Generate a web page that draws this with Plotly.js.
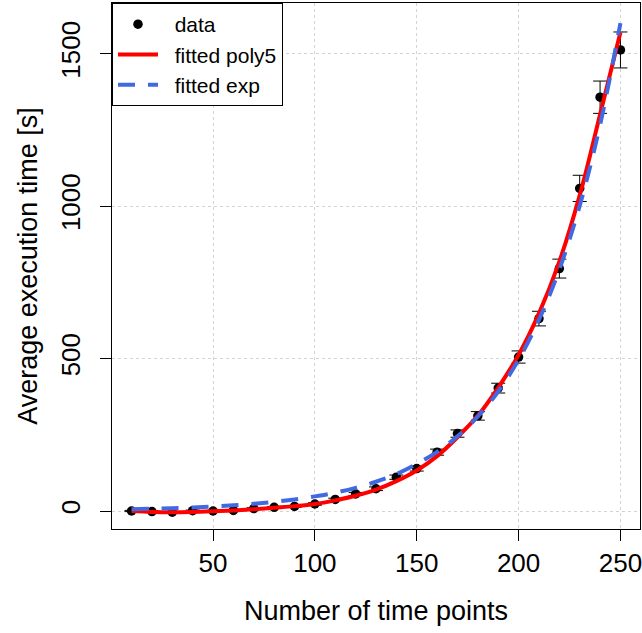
<!DOCTYPE html>
<html>
<head>
<meta charset="utf-8">
<script src="https://cdn.plot.ly/plotly-3.0.1.min.js"></script>
<style>
  html, body { margin: 0; padding: 0; background: #ffffff; }
  #chart { width: 642px; height: 633px; }
</style>
</head>
<body>
<div id="chart"></div>
<script>
// Number of time points
const timePoints = [10, 20, 30, 40, 50, 60, 70, 80, 90, 100, 110, 120, 130, 140, 150, 160, 170, 180, 190, 200, 210, 220, 230, 240, 250];
// Measured average execution time [s]
const meanTime = [0, -2, -4, 1, 0, 2, 8, 12, 15, 23, 38, 56, 73, 111, 139, 193, 254, 312, 403, 505, 631, 795, 1058, 1357, 1512];
// Error bar half-lengths
const sdTime = [2, 2, 2, 2, 2, 2, 3, 3, 3, 4, 4, 5, 6, 7, 8, 10, 12, 14, 16, 20, 24, 31, 43, 53, 59];
// Fitted curves
const fitPoly5 = [0, -3, -4, -3, -1, 2, 6, 11, 16, 23, 35, 50, 70, 98, 133, 180, 242, 313, 405, 512, 648, 818, 1035, 1300, 1570];
const fitExp = [5.8, 7.3, 9.3, 11.7, 14.8, 18.7, 23.6, 30, 38, 48, 60, 76, 96, 121, 154, 194, 245, 310, 392, 496, 627, 792, 1001, 1266, 1600];

const xTicks = [50, 100, 150, 200, 250];
const yTicks = [0, 500, 1000, 1500];
const legendNames = ['data', 'fitted poly5', 'fitted exp'];

const FONT = 'Liberation Sans, Arial, Helvetica, sans-serif';
const PAD = '\u00A0\u00A0';

const traces = [
  {
    x: timePoints, y: meanTime, type: 'scatter', mode: 'markers', name: PAD + legendNames[0],
    marker: { color: '#000000', size: 9.5 },
    error_y: { type: 'data', array: sdTime, visible: true, color: '#000000', thickness: 1, width: 7 }
  },
  {
    x: timePoints, y: fitPoly5, type: 'scatter', mode: 'lines', name: PAD + legendNames[1],
    line: { color: '#FF0000', width: 4, shape: 'spline' }
  },
  {
    x: timePoints, y: fitExp, type: 'scatter', mode: 'lines', name: PAD + legendNames[2],
    line: { color: '#4169E1', width: 4, shape: 'spline', dash: '17px,13px' }
  }
];

const axisCommon = {
  showline: true, mirror: true, linecolor: '#000000', linewidth: 1,
  ticks: 'outside', ticklen: 11, tickwidth: 1, tickcolor: '#000000',
  showgrid: true, gridcolor: '#D3D3D3', griddash: 'dot', gridwidth: 1,
  zeroline: false, ticklabeloverflow: 'allow',
  tickfont: { family: FONT, size: 26, color: '#000000' }
};

const layout = {
  width: 642, height: 633,
  paper_bgcolor: '#ffffff', plot_bgcolor: '#ffffff',
  margin: { l: 112, r: 2, t: 3, b: 104, pad: 0 },
  font: { family: FONT, color: '#000000' },
  showlegend: true,
  legend: {
    x: 0, y: 1, xanchor: 'left', yanchor: 'top', xref: 'paper', yref: 'paper',
    bgcolor: '#ffffff', bordercolor: '#000000', borderwidth: 1,
    font: { family: FONT, size: 21, color: '#000000' },
    itemwidth: 40, tracegroupgap: 0
  },
  xaxis: Object.assign({}, axisCommon, {
    range: [0.4, 259.6], tickvals: xTicks, ticktext: xTicks.map(String),
    title: { text: 'Number of time points', font: { family: FONT, size: 27, color: '#000000' }, standoff: 23 }
  }),
  yaxis: Object.assign({}, axisCommon, {
    range: [-59, 1666], tickvals: yTicks, ticktext: yTicks.map(String), tickangle: -90,
    ticklabelstandoff: 10,
    title: { text: 'Average execution time [s]', font: { family: FONT, size: 27, color: '#000000' }, standoff: 10 }
  })
};

Plotly.newPlot('chart', traces, layout, { displayModeBar: false, staticPlot: true });
</script>
</body>
</html>
